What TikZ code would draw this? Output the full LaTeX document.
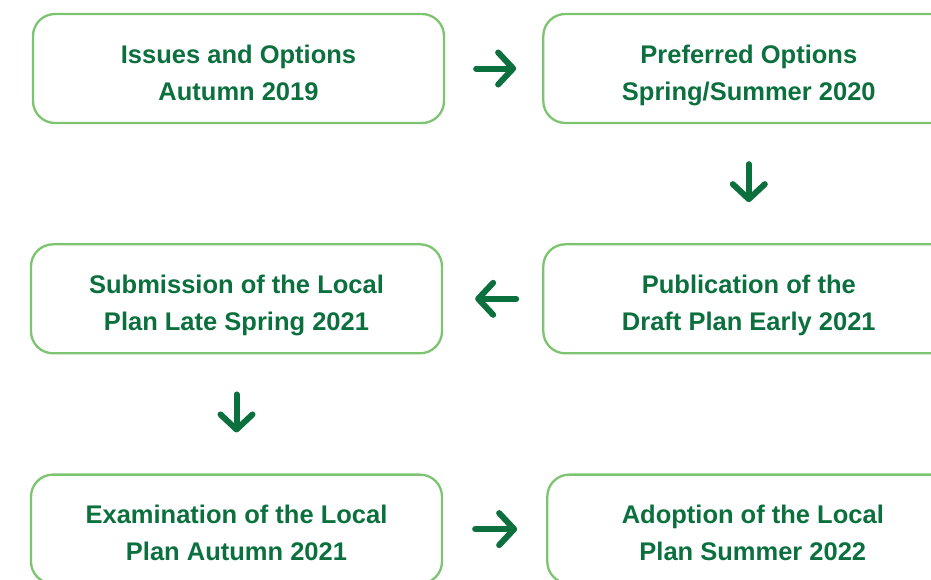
\documentclass[tikz,border=0pt]{standalone}
\usepackage{fontspec}
\setmainfont{Liberation Sans}
\usepackage{xcolor}
\usepackage{tikz}
\usetikzlibrary{arrows.meta, positioning}
\definecolor{darkgreen}{RGB}{11,112,62}
\definecolor{lightgreen}{RGB}{124,196,112}
\tikzstyle{stage} = [rectangle, rounded corners=22pt, minimum width=411pt, minimum height=109pt, inner sep=0pt, align=center, draw=lightgreen, line width=2.3pt, text=darkgreen, font=\bfseries\fontsize{25.5}{37}\selectfont, text height=63pt, text depth=0pt]
\tikzstyle{arrow} = [draw=darkgreen, line width=6pt, line cap=round, -{Straight Barb[length=15pt, width=32pt, round]}]

\begin{document}
\begin{tikzpicture}
\clip[use as bounding box] (0,0) rectangle (931pt,-579pt);
\node (issues) [stage] at (238.5pt,-68.5pt) {Issues and Options\\Autumn 2019};
\node (preferred) [stage, right=97pt of issues] {Preferred Options\\Spring/Summer 2020};
\node (publication) [stage, below=119pt of preferred] {Publication of the\\Draft Plan Early 2021};
\node (submission) [stage, left=99pt of publication] {Submission of the Local\\Plan Late Spring 2021};
\node (examination) [stage, below=119pt of submission] {Examination of the Local\\Plan Autumn 2021};
\node (adoption) [stage, right=103pt of examination] {Adoption of the Local\\Plan Summer 2022};

\draw [arrow, shorten <=31pt, shorten >=26pt] (issues) -- (preferred);
\draw [arrow, shorten <=40pt, shorten >=41pt] (preferred) -- (publication);
\draw [arrow, shorten <=26pt, shorten >=32pt] (publication) -- (submission);
\draw [arrow, shorten <=40pt, shorten >=41pt] (submission) -- (examination);
\draw [arrow, shorten <=32pt, shorten >=29pt] (examination) -- (adoption);
\end{tikzpicture}
\end{document}
